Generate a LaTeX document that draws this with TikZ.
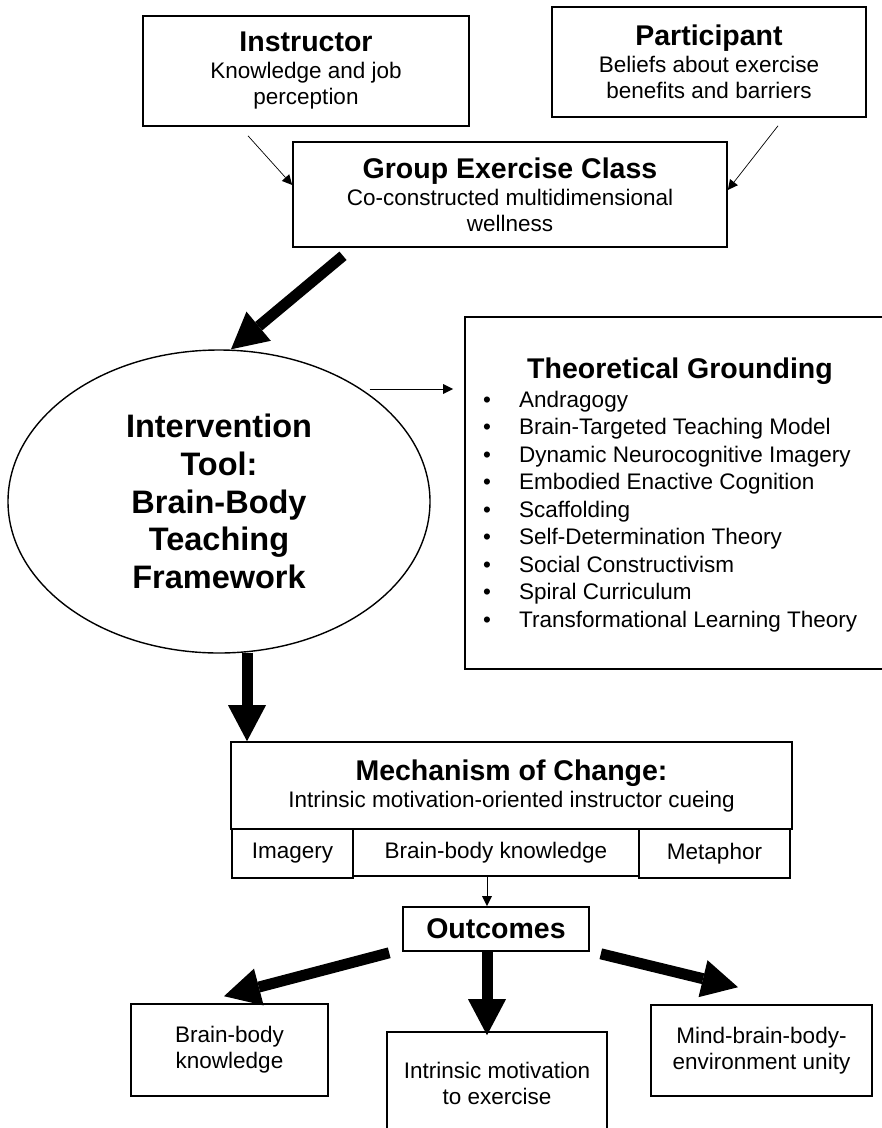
\documentclass[tikz,border=0pt]{standalone}
\usepackage{fontspec}
\setmainfont{Liberation Sans}
\usetikzlibrary{arrows.meta,shapes.geometric,calc}

% type sizes used throughout the figure
\newcommand{\bodysize}{\fontsize{22.5}{26}\selectfont}
\newcommand{\headsize}{\fontsize{28.5}{29}\selectfont\bfseries}
\newcommand{\toolsize}{\fontsize{32.5}{37.8}\selectfont\bfseries}

\begin{document}
\begin{tikzpicture}[x=1pt,y=-1pt,
  box/.style={draw, line width=1.6pt, rectangle, inner sep=0pt, align=center, font=\bodysize},
  thinarrow/.style={line width=0.7pt, -{Triangle[length=10pt,width=10pt,line width=0pt]}},
  bigarrow/.style={line width=11pt, -{Triangle[length=36pt,width=38pt,line width=0pt]}},
  listline/.style={inner sep=0pt, font=\bodysize},
]
\useasboundingbox (0,0) rectangle (882,1128);
\clip (0,0) rectangle (882,1128);
\fill[white] (0,0) rectangle (882,1128);

% --- inputs ---
\node[box, minimum width=326, minimum height=110] (instructor) at (306,71)
  {{\headsize Instructor}\\[1pt] Knowledge and job\\ perception};
\node[box, minimum width=314, minimum height=110] (participant) at (709,62)
  {{\headsize Participant}\\[1pt] Beliefs about exercise\\ benefits and barriers};
\node[box, minimum width=434, minimum height=105] (group) at (510,194.5)
  {{\headsize Group Exercise Class}\\[1pt] Co-constructed multidimensional\\ wellness};

% --- intervention tool ---
\node[draw, ellipse, line width=1.4pt, inner sep=0pt, minimum width=422, minimum height=303,
      align=center, font=\toolsize] (tool) at (219,501.5)
  {Intervention\\ Tool:\\ Brain-Body\\ Teaching\\ Framework};

% --- theoretical grounding ---
\node[box, minimum width=435, minimum height=352] (theory) at (682.5,493) {};
\node[anchor=base, inner sep=0pt, font=\headsize] (theorytitle) at (680,378) {Theoretical Grounding};
\foreach \entry [count=\i] in {Andragogy, Brain-Targeted Teaching Model,
    Dynamic Neurocognitive Imagery, Embodied Enactive Cognition, Scaffolding,
    Self-Determination Theory, Social Constructivism, Spiral Curriculum,
    Transformational Learning Theory} {
  \node[listline, anchor=base] (bullet\i) at (487,{407.3+27.5*(\i-1)}) {•};
  \node[listline, anchor=base west] (item\i) at (519,{407.3+27.5*(\i-1)}) {\entry};
}

% --- mechanism of change ---
\node[box, minimum width=561, minimum height=87] (mech) at (511.5,785.5)
  {{\headsize Mechanism of Change:}\\[1pt] Intrinsic motivation-oriented instructor cueing};
\node[box, minimum width=121, minimum height=49] (imagery) at (292.5,853.5) {Imagery};
\node[box, minimum width=286, minimum height=47] (mbbk) at (496,852.5) {Brain-body knowledge};
\node[box, minimum width=151, minimum height=49] (metaphor) at (714.5,853.5) {Metaphor};

% --- outcomes ---
\node[box, minimum width=186, minimum height=44, font=\headsize] (outcomes) at (496,929) {Outcomes};
\node[box, minimum width=197, minimum height=92] (out1) at (229.5,1050) {Brain-body\\ knowledge};
\node[box, minimum width=220, minimum height=102] (out2) at (497,1083) {Intrinsic motivation\\ to exercise};
\node[box, minimum width=221, minimum height=91] (out3) at (761.5,1050.5) {Mind-brain-body-\\ environment unity};

% --- connectors ---
\draw[thinarrow] ($(instructor.south)+(-58,9)$) -- ($(group.west)+(0,-9.5)$);
\draw[thinarrow] ($(participant.south)+(69,8)$) -- ($(group.east)+(0,-4.5)$);
\draw[bigarrow] ($(group.south)+(-167,8)$) -- ($(tool.north)+(12,0)$);
\draw[thinarrow] ($(tool.east)+(-61,-112.5)$) -- ($(theory.west)+(-11,-104)$);
\draw[bigarrow] ($(tool.south)+(28,-1)$) -- ($(mech.north)+(-264.5,0)$);
\draw[thinarrow] ($(mbbk.south)+(-9,0)$) -- ($(outcomes.north)+(-9,0)$);
\draw[bigarrow] ($(outcomes.south west)+(-13,1)$) -- ($(out1.north)+(-5.5,-7)$);
\draw[bigarrow] ($(outcomes.south)+(-9,0)$) -- ($(out2.north)+(-10,4)$);
\draw[bigarrow] ($(outcomes.south east)+(11,2)$) -- ($(out3.north)+(-23.5,-17)$);
\end{tikzpicture}
\end{document}
